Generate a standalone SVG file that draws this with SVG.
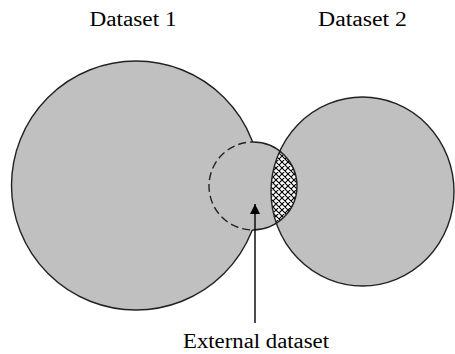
<svg xmlns="http://www.w3.org/2000/svg" width="455" height="354" viewBox="0 0 455 354">
<style>
.lbl{font-family:"Liberation Serif","Times New Roman",serif;font-size:20px;fill:#000}
.set{fill:#c0c0c0;stroke:#222;stroke-width:1.4}
.edge{fill:none;stroke:#222;stroke-width:1.4}
</style>
<defs>
<pattern id="hatch" width="6" height="6" patternUnits="userSpaceOnUse">
<rect width="6" height="6" fill="#fff"/>
<path d="M0,0 L6,6 M6,0 L0,6 M-1,5 L1,7 M5,-1 L7,1 M-1,1 L1,-1 M5,7 L7,5" stroke="#000" stroke-width="1.1"/>
</pattern>
<clipPath id="c1clip"><ellipse cx="136" cy="185.5" rx="124.5" ry="124.5"/></clipPath>
<clipPath id="c2clip"><ellipse cx="362.5" cy="191.5" rx="91.5" ry="94.5"/></clipPath>
<clipPath id="c3clip"><circle cx="253" cy="186" r="44"/></clipPath>
<mask id="outside1"><rect width="455" height="354" fill="#fff"/><ellipse cx="136" cy="185.5" rx="124.5" ry="124.5" fill="#000"/></mask>
<marker id="arr" viewBox="0 0 10 10" refX="10" refY="5" markerWidth="10" markerHeight="10" markerUnits="userSpaceOnUse" orient="auto">
<path d="M0,0 L10,5 L0,10 Z" fill="#000"/>
</marker>
</defs>
<g id="dataset1">
<ellipse class="set" cx="136" cy="185.5" rx="124.5" ry="124.5"/>
<text class="lbl" x="133" y="26" text-anchor="middle" textLength="87" lengthAdjust="spacingAndGlyphs">Dataset 1</text>
</g>
<g id="dataset2">
<ellipse class="set" cx="362.5" cy="191.5" rx="91.5" ry="94.5"/>
<text class="lbl" x="362.5" y="26" text-anchor="middle" textLength="89" lengthAdjust="spacingAndGlyphs">Dataset 2</text>
</g>
<g id="external">
<circle cx="253" cy="186" r="44" fill="#c0c0c0"/>
<g clip-path="url(#c2clip)"><circle cx="253" cy="186" r="44" fill="url(#hatch)"/></g>
<g clip-path="url(#c3clip)"><ellipse class="edge" cx="362.5" cy="191.5" rx="91.5" ry="94.5"/></g>
<circle class="edge" cx="253" cy="186" r="44" mask="url(#outside1)"/>
<g clip-path="url(#c1clip)"><circle class="edge" cx="253" cy="186" r="44" stroke-dasharray="8 4"/></g>
<text class="lbl" x="256" y="348" text-anchor="middle" textLength="146" lengthAdjust="spacingAndGlyphs">External dataset</text>
</g>
<g id="connectors">
<line x1="255" y1="323" x2="255" y2="204" stroke="#000" stroke-width="1.4" marker-end="url(#arr)"/>
</g>
</svg>
